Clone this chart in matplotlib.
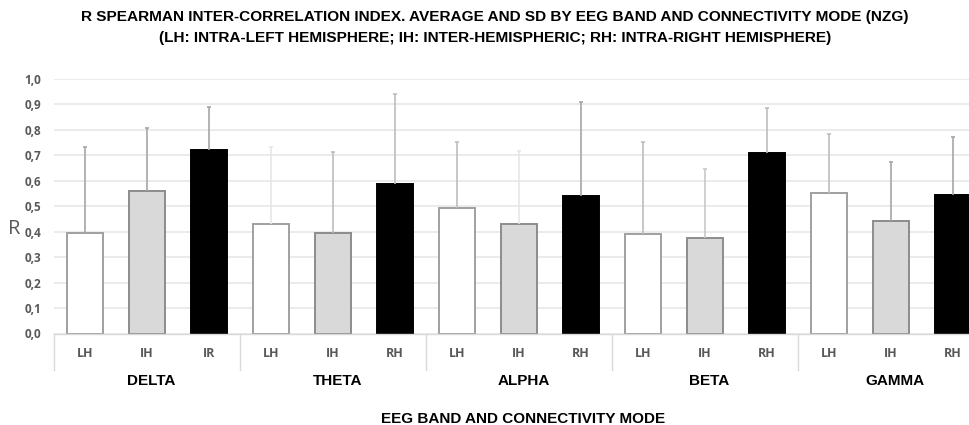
import matplotlib
matplotlib.use("Agg")
import matplotlib.pyplot as plt
import numpy as np

bands = ["DELTA", "THETA", "ALPHA", "BETA", "GAMMA"]
modes = [["LH", "IH", "IR"], ["LH", "IH", "RH"], ["LH", "IH", "RH"],
         ["LH", "IH", "RH"], ["LH", "IH", "RH"]]
means = [0.394, 0.561, 0.722,
         0.431, 0.396, 0.586,
         0.494, 0.431, 0.541,
         0.390, 0.374, 0.711,
         0.551, 0.443, 0.544]
sds = [0.340, 0.248, 0.168,
       0.303, 0.318, 0.354,
       0.260, 0.287, 0.370,
       0.361, 0.274, 0.174,
       0.232, 0.230, 0.227]
yticks = [0.0, 0.1, 0.2, 0.3, 0.4, 0.5, 0.6, 0.7, 0.8, 0.9, 1.0]

W, H = 970, 425
fig = plt.figure(figsize=(W / 100, H / 100), dpi=100)
left, right, bot, top = 54, 984, 333.5, 79
ax = fig.add_axes([left / W, 1 - bot / H, (right - left) / W, (bot - top) / H])

fills = ["white", "#d9d9d9", "black"]
edges = ["#a0a0a0", "#8c8c8c", "black"]
err_cols = ["#a6a6a6", "#a6a6a6", "#a6a6a6",
            "#e6e6e6", "#bdbdbd", "#bdbdbd",
            "#bdbdbd", "#e6e6e6", "#a6a6a6",
            "#bdbdbd", "#c8c8c8", "#bdbdbd",
            "#bdbdbd", "#a6a6a6", "#a6a6a6"]

x = np.arange(len(means))
cap = 0.025
for i in x:
    k = i % 3
    ax.bar(i, means[i], width=0.58, color=fills[k], edgecolor=edges[k],
           linewidth=1.4, zorder=2)
    hi = means[i] + sds[i]
    ax.vlines(i, means[i], hi, color=err_cols[i], linewidth=1.2, zorder=3)
    ax.hlines(hi, i - cap, i + cap, color=err_cols[i], linewidth=1.2, zorder=3)

ax.set_xlim(-0.5, len(means) - 0.5)
ax.set_ylim(0, 1.0)
ax.set_yticks(yticks)
ax.set_yticklabels([f"{v:.1f}".replace(".", ",") for v in yticks],
                   fontsize=8.5, color="#595959", fontweight="bold",
                   family="Open Sans")
ax.yaxis.grid(True, color="#e8e8e8", linewidth=1.2, zorder=0)
ax.set_axisbelow(True)
for s in ["left", "right", "top"]:
    ax.spines[s].set_visible(False)
ax.spines["bottom"].set_color("#d9d9d9")
ax.spines["bottom"].set_linewidth(1)
ax.tick_params(axis="y", length=0, pad=9)

sub_labels = [m for g in modes for m in g]
ax.set_xticks(x)
ax.set_xticklabels(sub_labels, fontsize=9, color="#595959",
                   fontweight="bold", family="Open Sans")
ax.tick_params(axis="x", length=0, pad=10)

trans = ax.get_xaxis_transform()
axh = bot - top
for g in range(len(bands) + 1):
    xb = g * 3 - 0.5
    ax.plot([xb, xb], [0, -36.5 / axh], transform=trans, color="#d9d9d9",
            linewidth=1, clip_on=False)
for g, b in enumerate(bands):
    ax.text(g * 3 + 1.07, -(381 - bot) / axh, b, transform=trans, ha="center",
            va="center", fontsize=11, fontweight="bold",
            family="Liberation Sans", color="black")

fig.text(14 / W, 1 - 229 / H, "R", fontsize=14.5, color="#595959",
         ha="center", va="center", family="Open Sans")

fig.text(495 / W, 1 - 17 / H,
         "R SPEARMAN INTER-CORRELATION INDEX. AVERAGE AND SD BY EEG BAND AND CONNECTIVITY MODE (NZG)",
         ha="center", va="center", fontsize=11.1, fontweight="bold",
         family="Liberation Sans")
fig.text(495 / W, 1 - 38 / H,
         "(LH: INTRA-LEFT HEMISPHERE; IH: INTER-HEMISPHERIC; RH: INTRA-RIGHT HEMISPHERE)",
         ha="center", va="center", fontsize=11.1, fontweight="bold",
         family="Liberation Sans")
fig.text(523 / W, 1 - 419 / H, "EEG BAND AND CONNECTIVITY MODE",
         ha="center", va="center", fontsize=11, fontweight="bold",
         family="Liberation Sans")

fig.savefig("out.png", dpi=100)
